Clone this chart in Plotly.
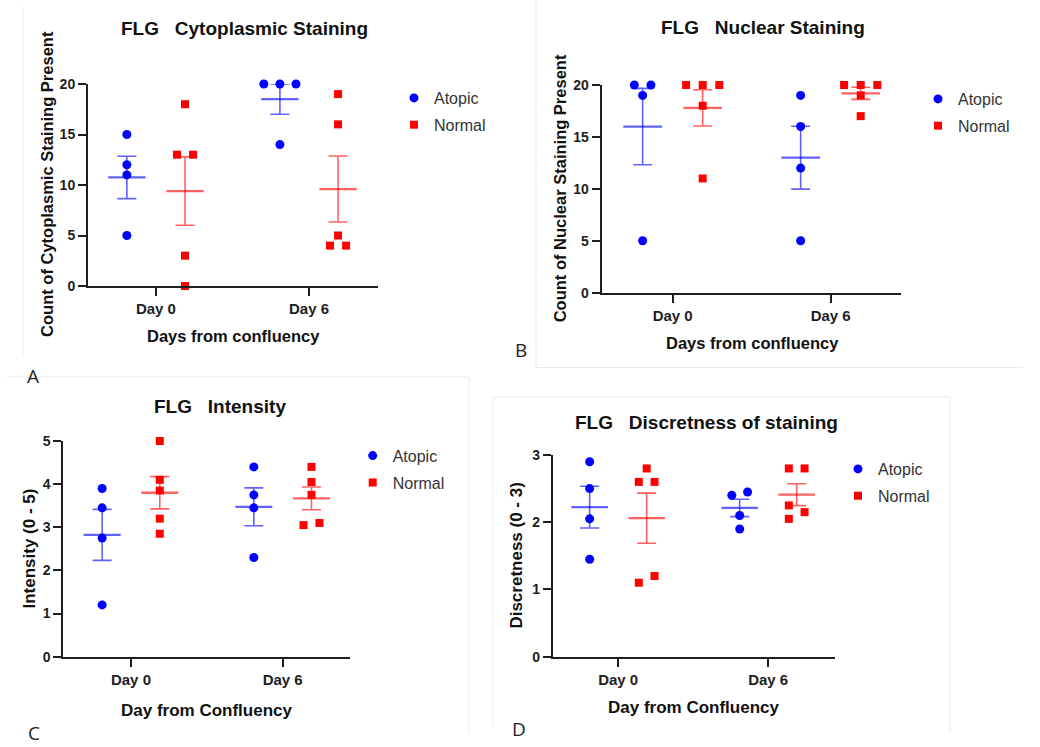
import plotly.graph_objects as go

# ---------------- data ----------------
categories = ["Day 0", "Day 6"]
groups = ["Atopic", "Normal"]

# Panel A: FLG cytoplasmic staining (count)
cyto_atopic = [[15, 12, 11, 5], [20, 20, 20, 14]]
cyto_normal = [[18, 13, 13, 3, 0], [19, 16, 5, 4, 4]]

# Panel B: FLG nuclear staining (count)
nuc_atopic = [[20, 20, 19, 5], [19, 16, 12, 5]]
nuc_normal = [[20, 20, 20, 18, 11], [20, 20, 20, 19, 17]]

# Panel C: FLG intensity (0 - 5)
int_atopic = [[3.9, 3.45, 2.75, 1.2], [4.4, 3.75, 3.45, 2.3]]
int_normal = [[5.0, 4.1, 3.85, 3.2, 2.85], [4.4, 4.05, 3.75, 3.1, 3.05]]

# Panel D: FLG discretness of staining (0 - 3)
dis_atopic = [[2.9, 2.5, 2.05, 1.45], [2.45, 2.4, 2.1, 1.9]]
dis_normal = [[2.8, 2.6, 2.6, 1.2, 1.1], [2.8, 2.8, 2.25, 2.15, 2.05]]

titles = ["FLG\u00a0\u00a0\u00a0Cytoplasmic Staining", "FLG\u00a0\u00a0\u00a0Nuclear Staining",
          "FLG\u00a0\u00a0\u00a0Intensity", "FLG\u00a0\u00a0\u00a0Discretness of staining"]
y_titles = ["Count of Cytoplasmic Staining Present", "Count of Nuclear Staining Present",
            "Intensity (0 - 5)", "Discretness (0 - 3)"]
x_titles = ["Days from confluency", "Days from confluency",
            "Day from Confluency", "Day from Confluency"]
y_maxes = [20, 20, 5, 3]
y_dticks = [5, 5, 1, 1]
panel_letters = ["A", "B", "C", "D"]

datasets = [(cyto_atopic, cyto_normal), (nuc_atopic, nuc_normal),
            (int_atopic, int_normal), (dis_atopic, dis_normal)]

# ---------------- style / layout ----------------
W, H = 1040, 747
BLUE = "#0000FF"
RED = "#FF0000"
BLUE_L = "rgba(0,0,255,0.62)"
RED_L = "rgba(255,0,0,0.62)"
FONT = "Arial, Liberation Sans, sans-serif"
DARK = "#1e1e1e"

GROUP_OFF = 0.19      # group offset within a category (x units)
SPREAD = 0.105        # spacing of equal-valued points
ZIG = 0.0525          # zigzag half offset for near-equal points
MEAN_HALF = 0.122     # half width of the mean line

# plot boxes in page pixels: x0, x1, ytop, ybottom ; x ranges
boxes = [
    dict(x0=88, x1=378, yt=84, yb=286, xr=[-0.444, 1.451]),
    dict(x0=601.7, x1=901, yt=85, yb=292.7, xr=[-0.449, 1.445]),
    dict(x0=63.3, x1=350, yt=441, yb=656.7, xr=[-0.446, 1.444]),
    dict(x0=552.9, x1=835.4, yt=455, yb=656.7, xr=[-0.435, 1.448]),
]
legend_pos = [(414, 98), (938, 99), (372.7, 455.7), (858, 469)]
title_pos = [(244, 28), (763, 27), (219.5, 406), (706.5, 422.7)]
ytitle_pos = [(46.7, 184.2), (560, 188.3), (29.2, 548.3), (516.8, 555.8)]
xtitle_pos = [(233.3, 336), (752.5, 343.3), (206.7, 710), (694, 707.3)]
letter_pos = [(32.5, 375.7), (521, 350), (34, 733), (519, 729)]
title_size = [19, 19, 19, 19]
axtitle_size = [16.5, 16.5, 17, 17]


def px(x):
    return x / W


def py(y):
    return 1 - y / H


def spread_offsets(vals, yrange):
    tol = 0.045 * yrange
    order = sorted(range(len(vals)), key=lambda i: vals[i])
    chains = []
    cur = [order[0]]
    for i in order[1:]:
        if vals[i] - vals[cur[-1]] < tol - 1e-9:
            cur.append(i)
        else:
            chains.append(cur)
            cur = [i]
    chains.append(cur)
    off = [0.0] * len(vals)
    for ch in chains:
        n = len(ch)
        if n == 1:
            continue
        if all(abs(vals[i] - vals[ch[0]]) < 1e-9 for i in ch):
            for k, i in enumerate(ch):
                off[i] = (k - (n - 1) / 2) * SPREAD
        else:
            for k, i in enumerate(ch):
                off[i] = -ZIG if k % 2 == 0 else ZIG
    return off


def mean_sem(v):
    n = len(v)
    m = sum(v) / n
    var = sum((a - m) ** 2 for a in v) / (n - 1)
    return m, (var ** 0.5) / (n ** 0.5)


fig = go.Figure()
annotations = []
shapes = []

for p in range(4):
    ax = "" if p == 0 else str(p + 1)
    xref, yref = "x" + ax, "y" + ax
    leg = "legend" if p == 0 else "legend" + str(p + 1)
    ymax = y_maxes[p]
    for g, (gname, col, col_l, sym, msize) in enumerate([
            ("Atopic", BLUE, BLUE_L, "circle", 9),
            ("Normal", RED, RED_L, "square", 8)]):
        series = datasets[p][g]
        sgn = -1 if g == 0 else 1
        xs, ys = [], []
        mx, my, me = [], [], []
        lx, ly = [], []
        for c, vals in enumerate(series):
            center = c + sgn * GROUP_OFF
            offs = spread_offsets(vals, ymax)
            for v, o in zip(vals, offs):
                xs.append(center + o)
                ys.append(v)
            m, s = mean_sem(vals)
            mx.append(center)
            my.append(m)
            me.append(s)
            lx += [center - MEAN_HALF, center + MEAN_HALF, None]
            ly += [m, m, None]
        # error bars (SEM)
        fig.add_trace(go.Scatter(
            x=mx, y=my, mode="markers", marker=dict(size=1, color="rgba(0,0,0,0)"),
            error_y=dict(type="data", array=me, symmetric=True, color=col_l,
                         thickness=1.6, width=9.5),
            xaxis=xref, yaxis=yref, showlegend=False, hoverinfo="skip", cliponaxis=False))
        # mean line
        fig.add_trace(go.Scatter(
            x=lx, y=ly, mode="lines", line=dict(color=col_l, width=2.3),
            xaxis=xref, yaxis=yref, showlegend=False, hoverinfo="skip", cliponaxis=False))
        # points
        fig.add_trace(go.Scatter(
            x=xs, y=ys, mode="markers", name=gname,
            marker=dict(color=col, symbol=sym, size=msize, line=dict(width=0)),
            xaxis=xref, yaxis=yref, legend=leg, legendgroup=gname + str(p),
            showlegend=True, cliponaxis=False))

layout = dict(
    width=W, height=H, margin=dict(l=0, r=0, t=0, b=0, pad=0, autoexpand=False),
    paper_bgcolor="white", plot_bgcolor="white", showlegend=True,
)

for p in range(4):
    ax = "" if p == 0 else str(p + 1)
    b = boxes[p]
    layout["xaxis" + ax] = dict(
        domain=[px(b["x0"]), px(b["x1"])], range=b["xr"], anchor="y" + ax,
        tickmode="array", tickvals=[0, 1], ticktext=categories,
        showline=True, linecolor=DARK, linewidth=2, ticks="outside", ticklen=8,
        tickwidth=2, tickcolor=DARK, showgrid=False, zeroline=False, automargin=False,
        tickfont=dict(family=FONT, size=15, color=DARK, weight="bold"), fixedrange=True)
    layout["yaxis" + ax] = dict(
        domain=[py(b["yb"]), py(b["yt"])], range=[0, y_maxes[p]], anchor="x" + ax,
        tickmode="linear", tick0=0, dtick=y_dticks[p],
        showline=True, linecolor=DARK, linewidth=2, ticks="outside", ticklen=8,
        tickwidth=2, tickcolor=DARK, showgrid=False, zeroline=False, automargin=False,
        tickfont=dict(family=FONT, size=14, color=DARK, weight="bold"), fixedrange=True)
    lname = "legend" if p == 0 else "legend" + str(p + 1)
    lx, ly = legend_pos[p]
    layout[lname] = dict(
        x=px(lx - 20), y=py(ly - 17), xanchor="left", yanchor="top",
        bgcolor="rgba(0,0,0,0)", borderwidth=0, tracegroupgap=3,
        font=dict(family=FONT, size=16, color="#333333"), traceorder="grouped")
    tx, ty = title_pos[p]
    annotations.append(dict(
        text=titles[p], x=px(tx), y=py(ty), xref="paper", yref="paper",
        xanchor="center", yanchor="middle", showarrow=False,
        font=dict(family=FONT, size=title_size[p], color="#111111", weight="bold")))
    yx, yy = ytitle_pos[p]
    annotations.append(dict(
        text=y_titles[p], x=px(yx), y=py(yy), xref="paper", yref="paper",
        xanchor="center", yanchor="middle", showarrow=False, textangle=-90,
        font=dict(family=FONT, size=axtitle_size[p], color="#111111", weight="bold")))
    xx, xy = xtitle_pos[p]
    annotations.append(dict(
        text=x_titles[p], x=px(xx), y=py(xy), xref="paper", yref="paper",
        xanchor="center", yanchor="middle", showarrow=False,
        font=dict(family=FONT, size=axtitle_size[p], color="#111111", weight="bold")))
    lx2, ly2 = letter_pos[p]
    annotations.append(dict(
        text=panel_letters[p], x=px(lx2), y=py(ly2), xref="paper", yref="paper",
        xanchor="center", yanchor="middle", showarrow=False,
        font=dict(family="Open Sans, sans-serif", size=19, color="#222222")))

# faint borders of the pasted panel images
FAINT = "#ebebeb"
for (x0, y0, x1, y1) in [(23, 7, 23, 358), (536, 0, 536, 367), (536, 367.5, 1023, 367.5),
                         (7, 377, 468, 377), (469, 377, 469, 733),
                         (493, 397, 950, 397), (493, 397, 493, 727), (950, 397, 950, 733)]:
    shapes.append(dict(type="line", xref="paper", yref="paper",
                       x0=px(x0), y0=py(y0), x1=px(x1), y1=py(y1),
                       line=dict(color=FAINT, width=1), layer="below"))

layout["annotations"] = annotations
layout["shapes"] = shapes
fig.update_layout(**layout)
fig.write_html(
    "out.html",
    config={"displayModeBar": False},
    post_script="document.body.style.margin='0';document.body.style.overflow='hidden';",
)
